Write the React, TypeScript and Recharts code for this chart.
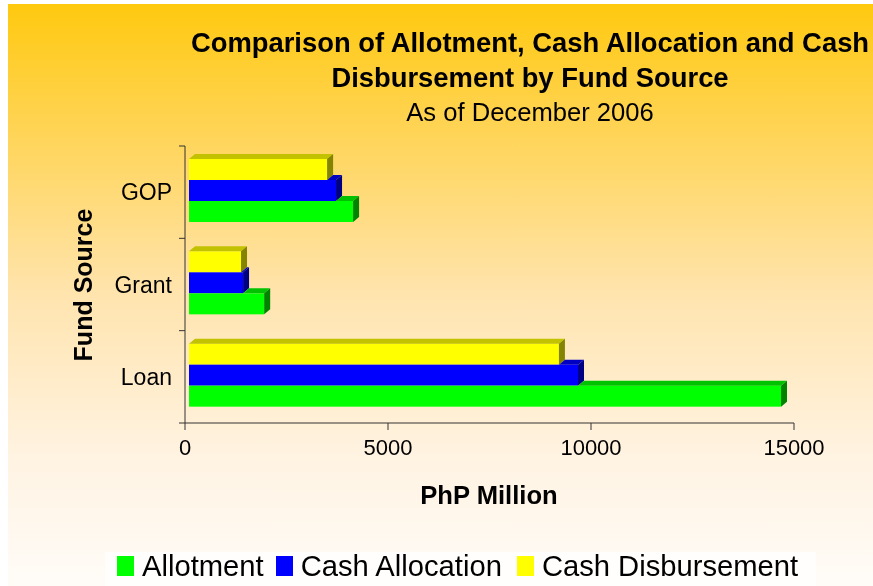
import React from "react";
import { BarChart, Bar, XAxis, YAxis } from "recharts";

const categories = ["GOP", "Grant", "Loan"];
const allotment = [4140, 1950, 14680];
const cashAllocation = [3720, 1430, 9680];
const cashDisbursement = [3500, 1380, 9210];
const xTicks = [0, 5000, 10000, 15000];

const FONT = "'Liberation Sans', Arial, Helvetica, sans-serif";
const W = 865;
const H = 582;
const PLOT_LEFT = 177;
const PLOT_TOP = 142;
const PLOT_W = 609;
const PLOT_H = 277;
const Y_AXIS_W = 100;
const X_AXIS_H = 30;
const BAND = PLOT_H / categories.length;
const DX = 6;
const DY = 5;

// top-to-bottom order inside each band
const series = [
  { key: "cashDisbursement", name: "Cash Disbursement", fill: "#FFFF00", top: "#C2C200", side: "#848400", above: null },
  { key: "cashAllocation", name: "Cash Allocation", fill: "#0000FF", top: "#0000C2", side: "#000084", above: "cashDisbursement" },
  { key: "allotment", name: "Allotment", fill: "#00FF00", top: "#00C200", side: "#008400", above: "cashAllocation" },
];

const legendOrder = ["allotment", "cashAllocation", "cashDisbursement"];
const legendGaps = [12, 15, 0];

const data = categories.map((name, i) => ({
  name,
  allotment: allotment[i],
  cashAllocation: cashAllocation[i],
  cashDisbursement: cashDisbursement[i],
}));

function Bar3D(props: any) {
  const { x, y, width, height, payload, s } = props;
  if (!width || width <= 0) return null;
  const v = payload[s.key];
  const ratio = width / v;
  const inset = 4;
  const yy = y - 2;
  const aboveW = s.above ? payload[s.above] * ratio : 0;
  const start = Math.max(inset, Math.min(aboveW, width));
  const right = x + width;
  return (
    <g>
      <rect x={x + inset} y={yy} width={width - inset} height={height} fill={s.fill} />
      {start < width && (
        <polygon
          points={`${x + start},${yy} ${x + start + DX},${yy - DY} ${right + DX},${yy - DY} ${right},${yy}`}
          fill={s.top}
        />
      )}
      <polygon
        points={`${right},${yy} ${right + DX},${yy - DY} ${right + DX},${yy + height - DY} ${right},${yy + height}`}
        fill={s.side}
      />
    </g>
  );
}

function CatTick(props: any) {
  const { y, payload, index } = props;
  const last = index === categories.length - 1;
  return (
    <g>
      <line x1={PLOT_LEFT - 6} x2={PLOT_LEFT} y1={y - BAND / 2} y2={y - BAND / 2} stroke="#333" />
      {last && <line x1={PLOT_LEFT - 6} x2={PLOT_LEFT} y1={y + BAND / 2} y2={y + BAND / 2} stroke="#333" />}
      <text x={PLOT_LEFT - 13} y={y} dy="0.36em" textAnchor="end" fontSize={23} fill="#000" fontFamily={FONT}>
        {payload.value}
      </text>
    </g>
  );
}

export default function App() {
  return (
    <>
      <style>{`html,body{margin:0;padding:0;overflow:hidden;background:#fff}`}</style>
      <div
        style={{
          position: "fixed",
          left: 8,
          top: 4,
          right: 0,
          bottom: 0,
          background: "linear-gradient(180deg, #FFC90F 0%, #FFD24A 18%, #FFE4AE 50%, #FFF3E2 78%, #FFFCF8 100%)",
        }}
      />
      <div
        style={{
          position: "absolute",
          left: 8,
          top: 4,
          width: W,
          height: H,
          fontFamily: FONT,
        }}
      >
        <div style={{ position: "absolute", left: 122, width: 800, top: 21, textAlign: "center", color: "#000" }}>
          <div style={{ fontSize: 27.4, fontWeight: "bold", lineHeight: "35px" }}>
            Comparison of Allotment, Cash Allocation and Cash
          </div>
          <div style={{ fontSize: 27.4, fontWeight: "bold", lineHeight: "35px" }}>Disbursement by Fund Source</div>
          <div style={{ fontSize: 25.6, lineHeight: "35px" }}>As of December 2006</div>
        </div>

        <div style={{ position: "absolute", left: 0, top: 0 }}>
          <BarChart
            width={W}
            height={H}
            data={data}
            layout="vertical"
            barGap={0}
            margin={{ top: PLOT_TOP, right: W - PLOT_LEFT - PLOT_W, left: PLOT_LEFT - Y_AXIS_W, bottom: H - PLOT_TOP - PLOT_H - X_AXIS_H }}
          >
            <XAxis
              type="number"
              domain={[0, 15000]}
              ticks={xTicks}
              height={X_AXIS_H}
              axisLine={{ stroke: "#333" }}
              tickLine={{ stroke: "#333" }}
              tickSize={7}
              tickMargin={9}
              tick={{ fontSize: 22, fill: "#000", fontFamily: FONT }}
            />
            <YAxis
              type="category"
              dataKey="name"
              width={Y_AXIS_W}
              axisLine={{ stroke: "#333" }}
              tickLine={false}
              tick={(p: any) => <CatTick {...p} />}
            />
            {series.map((s) => (
              <Bar
                key={s.key}
                dataKey={s.key}
                name={s.name}
                fill={s.fill}
                barSize={21}
                isAnimationActive={false}
                shape={(p: any) => <Bar3D {...p} s={s} />}
              />
            ))}
          </BarChart>
        </div>

        <div
          style={{
            position: "absolute",
            left: 75,
            top: 281,
            transform: "translate(-50%, -50%) rotate(-90deg)",
            fontSize: 25,
            fontWeight: "bold",
            whiteSpace: "nowrap",
          }}
        >
          Fund Source
        </div>
        <div
          style={{
            position: "absolute",
            left: 481,
            top: 491,
            transform: "translate(-50%, -50%)",
            fontSize: 25.6,
            fontWeight: "bold",
            whiteSpace: "nowrap",
          }}
        >
          PhP Million
        </div>

        <div
          style={{
            position: "absolute",
            left: 97,
            top: 548,
            width: 711,
            height: 34,
            paddingBottom: 6,
            paddingLeft: 12,
            boxSizing: "border-box",
            background: "#FFFEFC",
            display: "flex",
            alignItems: "center",
            fontSize: 29.2,
            whiteSpace: "nowrap",
          }}
        >
          {legendOrder.map((k, i) => {
            const s = series.find((x) => x.key === k)!;
            return (
              <div key={k} style={{ display: "flex", alignItems: "center", marginRight: legendGaps[i] }}>
                <span style={{ display: "inline-block", width: 17, height: 20, background: s.fill, marginRight: 8 }} />
                <span>{s.name}</span>
              </div>
            );
          })}
        </div>
      </div>
    </>
  );
}
